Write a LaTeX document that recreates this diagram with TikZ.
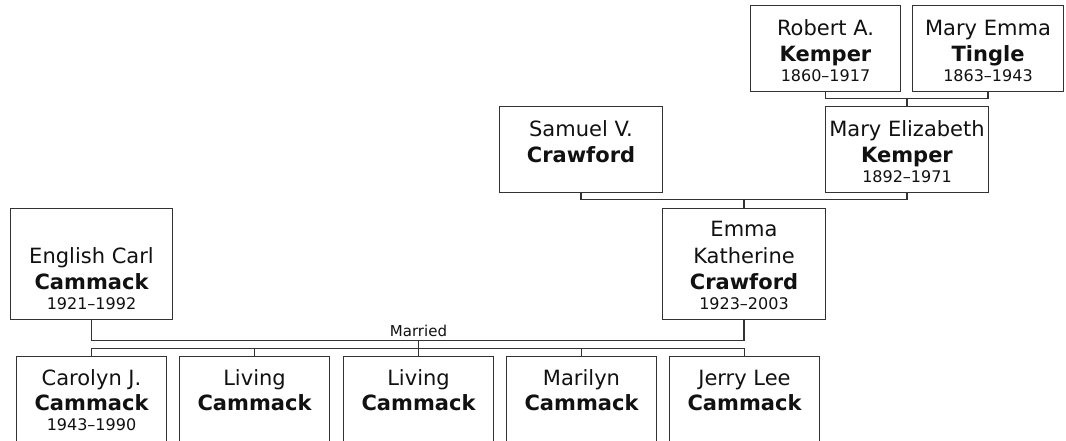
\documentclass[tikz,border=0pt]{standalone}
\usepackage{fontspec}
\setmainfont{DejaVu Sans}
\definecolor{linec}{HTML}{333333}
\definecolor{txt}{HTML}{111111}
\tikzset{
  pbox/.style={draw=linec, line width=1.1pt, rectangle, inner sep=0pt, outer sep=0pt, anchor=north west},
  nm/.style={anchor=base, inner sep=0pt, text=txt, font=\fontsize{21}{25}\selectfont},
  sn/.style={anchor=base, inner sep=0pt, text=txt, font=\fontsize{21}{25}\selectfont\bfseries},
  dt/.style={anchor=base, inner sep=0pt, text=txt, font=\fontsize{16}{19}\selectfont},
  conn/.style={draw=linec, line width=1.1pt},
}
\begin{document}
\begin{tikzpicture}[x=1pt,y=-1pt]
\useasboundingbox (0,0) rectangle (1066,440);
\fill[white] (0,0) rectangle (1066,440);
\clip (0,0) rectangle (1066,440);
% generation 1
\node[pbox, minimum width=150pt, minimum height=86pt] (rob) at (750.5,5.5) {};
\node[nm] (rob1) at (825.5,35) {Robert A.};
\node[sn] (rob2) at (825.5,61) {Kemper};
\node[dt] (rob3) at (825.5,81) {1860–1917};
\node[pbox, minimum width=151pt, minimum height=86pt] (mem) at (912.5,5.5) {};
\node[nm] (mem1) at (988,35) {Mary Emma};
\node[sn] (mem2) at (988,61) {Tingle};
\node[dt] (mem3) at (988,81) {1863–1943};
% generation 2
\node[pbox, minimum width=163pt, minimum height=86pt] (sam) at (499.5,106.5) {};
\node[nm] (sam1) at (581,136) {Samuel V.};
\node[sn] (sam2) at (581,162) {Crawford};
\node[pbox, minimum width=163pt, minimum height=86pt] (mel) at (825.5,106.5) {};
\node[nm] (mel1) at (907,136) {Mary Elizabeth};
\node[sn] (mel2) at (907,162) {Kemper};
\node[dt] (mel3) at (907,182) {1892–1971};
% generation 3
\node[pbox, minimum width=162pt, minimum height=111pt] (ecc) at (10.5,208.5) {};
\node[nm] (ecc1) at (91.5,263) {English Carl};
\node[sn] (ecc2) at (91.5,289) {Cammack};
\node[dt] (ecc3) at (91.5,309) {1921–1992};
\node[pbox, minimum width=163pt, minimum height=111pt] (emm) at (662.5,208.5) {};
\node[nm] (emm1) at (744,236) {Emma};
\node[nm] (emm2) at (744,263) {Katherine};
\node[sn] (emm3) at (744,289) {Crawford};
\node[dt] (emm4) at (744,309) {1923–2003};
% children
\node[pbox, minimum width=150pt, minimum height=120pt] (c1) at (16.5,356.5) {};
\node[nm] (c1a) at (91.5,385) {Carolyn J.};
\node[sn] (c1b) at (91.5,410.5) {Cammack};
\node[dt] (c1c) at (91.5,430) {1943–1990};
\node[pbox, minimum width=150pt, minimum height=120pt] (c2) at (179.5,356.5) {};
\node[nm] (c2a) at (254.5,385) {Living};
\node[sn] (c2b) at (254.5,410.5) {Cammack};
\node[pbox, minimum width=150pt, minimum height=120pt] (c3) at (343.5,356.5) {};
\node[nm] (c3a) at (418.5,385) {Living};
\node[sn] (c3b) at (418.5,410.5) {Cammack};
\node[pbox, minimum width=150pt, minimum height=120pt] (c4) at (506.5,356.5) {};
\node[nm] (c4a) at (581.5,385) {Marilyn};
\node[sn] (c4b) at (581.5,410.5) {Cammack};
\node[pbox, minimum width=150pt, minimum height=120pt] (c5) at (669.5,356.5) {};
\node[nm] (c5a) at (744.5,385) {Jerry Lee};
\node[sn] (c5b) at (744.5,410.5) {Cammack};
% connectors
\draw[conn] (rob.south) -- ++(0,7) coordinate (rmL) -| (mem.south);
\draw[conn] (mel.north) -- (mel.north |- rmL);
\draw[conn] (sam.south) -- ++(0,7) coordinate (smL) -| (mel.south);
\draw[conn] (emm.north) -- (emm.north |- smL);
\draw[conn] (ecc.south) -- ++(0,21) coordinate (mL) -| (emm.south);
\node[anchor=base, inner sep=0pt, text=txt, font=\fontsize{15}{18}\selectfont] (mar) at (418.5,336.7) {Married};
\draw[conn] (c1.north) -- ++(0,-8) coordinate (sb) -| (c5.north);
\draw[conn] (c2.north) -- (c2.north |- sb);
\draw[conn] (c4.north) -- (c4.north |- sb);
\draw[conn] (c3.north) -- (c3.north |- mL);
\end{tikzpicture}
\end{document}
